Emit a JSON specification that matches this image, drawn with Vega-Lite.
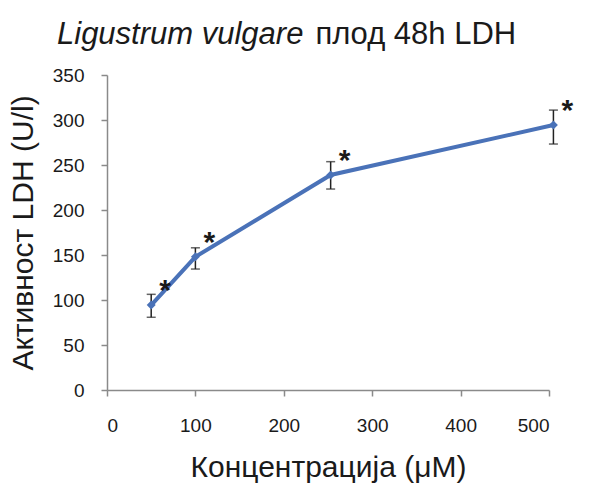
{
  "$schema": "https://vega.github.io/schema/vega-lite/v6.json",
  "width": 442,
  "height": 315,
  "autosize": {"type": "none"},
  "padding": {"left": 107, "top": 75, "right": 58, "bottom": 93},
  "background": "white",
  "title": {
    "text": "Ligustrum vulgare",
    "subtitle": "\u200b\u00a0\u00a0\u00a0\u00a0\u00a0\u00a0\u00a0\u00a0\u00a0\u00a0\u00a0\u00a0\u00a0\u00a0\u00a0\u00a0\u00a0\u00a0\u00a0\u00a0\u00a0\u00a0\u00a0\u00a0\u00a0\u00a0\u00a0\u00a0\u00a0\u00a0плод 48h LDH",
    "anchor": "start",
    "frame": "group",
    "dx": -50,
    "offset": 15,
    "font": "Liberation Sans",
    "fontSize": 31,
    "fontStyle": "italic",
    "fontWeight": "normal",
    "color": "#1a1a1a",
    "subtitleFont": "Liberation Sans",
    "subtitleFontSize": 31,
    "subtitleFontStyle": "normal",
    "subtitleColor": "#1a1a1a",
    "subtitlePadding": -31
  },
  "config": {
    "view": {"stroke": null},
    "font": "Liberation Sans",
    "axis": {
      "grid": false,
      "domainColor": "#8a8a8a",
      "domainWidth": 1.5,
      "tickColor": "#8a8a8a",
      "tickWidth": 1.5,
      "tickSize": 6,
      "labelFont": "Liberation Sans",
      "labelFontSize": 19,
      "labelColor": "#1a1a1a",
      "titleFont": "Liberation Sans",
      "titleFontSize": 30,
      "titleFontWeight": "normal",
      "titleColor": "#1a1a1a"
    }
  },
  "data": {
    "values": [
      {"conc": 50, "ldh": 94.4, "lo": 80.8, "hi": 106.3, "sig": "*"},
      {"conc": 100, "ldh": 148, "lo": 134.4, "hi": 158, "sig": "*"},
      {"conc": 253, "ldh": 238.9, "lo": 223.3, "hi": 253.7, "sig": "*"},
      {"conc": 505, "ldh": 294.4, "lo": 273.3, "hi": 311, "sig": "*"}
    ]
  },
  "encoding": {
    "x": {
      "field": "conc",
      "type": "quantitative",
      "scale": {"domain": [0, 500], "nice": false},
      "axis": {
        "values": [0, 100, 200, 300, 400, 500],
        "labelPadding": 20,
        "titlePadding": 17,
        "title": "Концентрација (μM)"
      }
    }
  },
  "layer": [
    {
      "mark": {
        "type": "errorbar",
        "color": "#222222",
        "thickness": 1.5,
        "ticks": {"size": 9, "color": "#222222", "thickness": 1.5}
      },
      "encoding": {
        "y": {
          "field": "lo",
          "type": "quantitative",
          "scale": {"domain": [0, 350], "nice": false},
          "axis": {
            "values": [0, 50, 100, 150, 200, 250, 300, 350],
            "labelPadding": 17,
            "titlePadding": 14,
            "title": "Активност LDH (U/l)"
          }
        },
        "y2": {"field": "hi"}
      }
    },
    {
      "mark": {"type": "line", "color": "#4a72b8", "strokeWidth": 4},
      "encoding": {
        "y": {"field": "ldh", "type": "quantitative", "title": "Активност LDH (U/l)"}
      }
    },
    {
      "mark": {"type": "point", "shape": "diamond", "filled": true, "opacity": 1, "size": 80, "color": "#4a72b8"},
      "encoding": {
        "y": {"field": "ldh", "type": "quantitative", "title": "Активност LDH (U/l)"}
      }
    },
    {
      "mark": {"type": "text", "dx": 14, "dy": -14, "fontSize": 30, "fontWeight": "bold", "color": "#1a1a1a"},
      "encoding": {
        "y": {"field": "ldh", "type": "quantitative", "title": "Активност LDH (U/l)"},
        "text": {"field": "sig"}
      }
    }
  ]
}
